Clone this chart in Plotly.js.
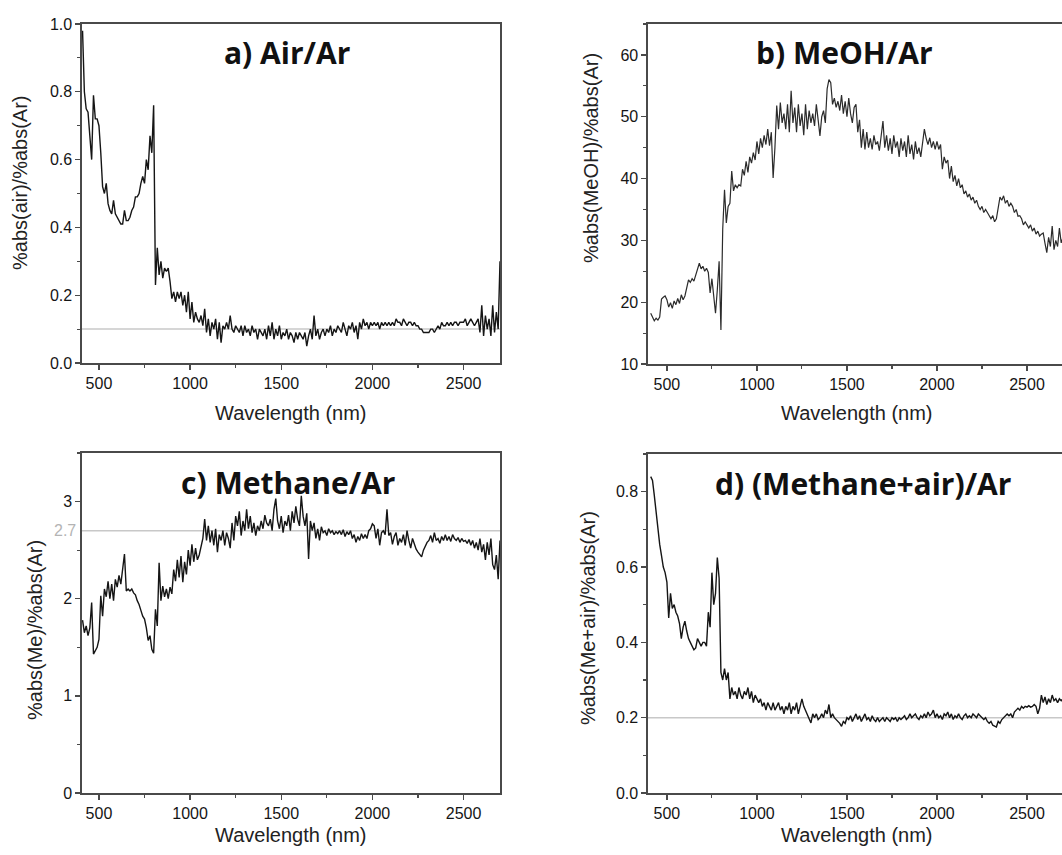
<!DOCTYPE html>
<html>
<head>
<meta charset="utf-8">
<script src="https://cdn.plot.ly/plotly-3.0.1.min.js"></script>
<style>
html,body{margin:0;padding:0;overflow:hidden;background:#fff;}
#chart{width:1070px;height:855px;}
</style>
</head>
<body>
<div id="chart"></div>
<script>
// Wavelength grid (nm)
const wavelength = [
410,420,430,440,450,460,470,480,490,500,
510,520,530,540,550,560,570,580,590,600,
610,620,630,640,650,660,670,680,690,700,
710,720,730,740,750,760,770,780,790,800,
810,820,830,840,850,860,870,880,890,900,
910,920,930,940,950,960,970,980,990,1000,
1010,1020,1030,1040,1050,1060,1070,1080,1090,1100,
1110,1120,1130,1140,1150,1160,1170,1180,1190,1200,
1210,1220,1230,1240,1250,1260,1270,1280,1290,1300,
1310,1320,1330,1340,1350,1360,1370,1380,1390,1400,
1410,1420,1430,1440,1450,1460,1470,1480,1490,1500,
1510,1520,1530,1540,1550,1560,1570,1580,1590,1600,
1610,1620,1630,1640,1650,1660,1670,1680,1690,1700,
1710,1720,1730,1740,1750,1760,1770,1780,1790,1800,
1810,1820,1830,1840,1850,1860,1870,1880,1890,1900,
1910,1920,1930,1940,1950,1960,1970,1980,1990,2000,
2010,2020,2030,2040,2050,2060,2070,2080,2090,2100,
2110,2120,2130,2140,2150,2160,2170,2180,2190,2200,
2210,2220,2230,2240,2250,2260,2270,2280,2290,2300,
2310,2320,2330,2340,2350,2360,2370,2380,2390,2400,
2410,2420,2430,2440,2450,2460,2470,2480,2490,2500,
2510,2520,2530,2540,2550,2560,2570,2580,2590,2600,
2610,2620,2630,2640,2650,2660,2670,2680,2690,2700
];

// a) Air/Ar
const airAr = [
0.98,0.80,0.75,0.74,0.67,0.60,0.79,0.72,0.72,0.70,
0.62,0.52,0.50,0.53,0.47,0.45,0.44,0.48,0.44,0.43,
0.42,0.41,0.41,0.45,0.42,0.42,0.43,0.45,0.46,0.49,
0.49,0.50,0.53,0.55,0.53,0.60,0.57,0.67,0.62,0.76,
0.23,0.34,0.26,0.30,0.25,0.28,0.27,0.28,0.24,0.19,
0.21,0.18,0.21,0.19,0.21,0.17,0.20,0.15,0.21,0.13,
0.18,0.12,0.15,0.13,0.12,0.14,0.11,0.16,0.09,0.13,
0.08,0.12,0.10,0.13,0.07,0.12,0.06,0.11,0.10,0.12,
0.10,0.14,0.10,0.09,0.11,0.10,0.09,0.11,0.08,0.11,
0.09,0.10,0.08,0.11,0.09,0.10,0.07,0.10,0.09,0.08,
0.10,0.07,0.11,0.08,0.12,0.07,0.10,0.08,0.11,0.07,
0.09,0.08,0.10,0.07,0.09,0.08,0.06,0.09,0.07,0.09,
0.08,0.07,0.09,0.05,0.08,0.10,0.07,0.14,0.08,0.10,
0.07,0.09,0.10,0.08,0.10,0.09,0.11,0.08,0.10,0.09,
0.11,0.10,0.09,0.12,0.10,0.08,0.11,0.10,0.12,0.09,
0.11,0.07,0.12,0.10,0.13,0.11,0.12,0.10,0.12,0.11,
0.12,0.11,0.12,0.10,0.12,0.11,0.12,0.11,0.12,0.11,
0.12,0.11,0.13,0.12,0.12,0.11,0.13,0.12,0.11,0.12,
0.12,0.11,0.12,0.11,0.11,0.10,0.10,0.09,0.09,0.09,
0.09,0.10,0.10,0.09,0.10,0.11,0.10,0.12,0.11,0.11,
0.12,0.11,0.12,0.11,0.12,0.12,0.11,0.12,0.12,0.12,
0.13,0.11,0.12,0.13,0.12,0.11,0.12,0.13,0.09,0.17,
0.08,0.14,0.10,0.13,0.08,0.17,0.09,0.15,0.10,0.30
];

// b) MeOH/Ar
const meohAr = [
18.2,17.5,17.0,17.4,17.1,17.6,20.5,20.8,21.0,20.4,
19.2,19.9,19.0,20.2,19.6,20.6,19.8,21.2,20.4,21.0,
22.5,23.6,23.2,23.8,23.4,24.5,25.5,26.3,25.4,25.8,
25.0,25.5,24.8,21.5,23.8,20.5,18.2,22.0,26.6,15.5,
31.8,38.2,32.8,35.5,36.0,41.2,38.0,39.0,38.5,39.0,
38.8,41.5,40.5,42.8,41.0,43.5,42.5,44.2,43.0,46.0,
44.0,46.5,45.0,47.0,45.5,48.0,45.3,47.5,40.1,45.0,
51.8,48.0,52.3,49.0,50.5,48.0,52.0,47.5,54.2,49.0,
51.5,47.5,52.0,48.5,50.5,47.0,52.0,48.0,51.0,49.0,
50.5,48.5,52.0,49.5,46.9,50.0,51.0,49.0,54.5,56.0,
55.5,52.0,53.0,51.5,52.5,51.0,53.5,50.5,52.5,50.0,
53.0,50.5,49.0,51.5,52.0,47.5,49.5,45.0,48.0,44.7,
47.5,45.0,46.5,44.7,47.0,45.5,46.0,44.5,46.5,49.3,
45.0,47.0,44.5,46.5,44.0,47.0,45.0,46.0,43.5,46.5,
44.5,46.0,43.5,47.0,44.0,45.5,43.1,46.0,44.0,45.0,
43.5,46.0,48.0,46.5,45.5,46.6,45.0,46.0,44.7,46.0,
44.7,45.5,41.5,43.5,42.5,43.0,40.0,42.0,39.5,40.5,
38.8,40.0,38.5,39.0,37.5,38.0,37.0,37.5,36.5,37.0,
36.0,36.5,35.5,35.0,35.5,34.5,35.0,34.5,34.0,33.5,
34.0,33.0,33.5,35.5,37.0,36.5,37.2,36.0,36.5,35.5,
36.0,35.5,34.5,35.0,33.9,34.0,33.5,32.5,33.0,32.5,
32.0,32.5,31.5,32.0,31.0,31.5,30.7,31.0,31.2,29.5,
28.0,30.5,29.0,32.3,28.5,30.0,29.0,32.0,29.6,30.5
];

// c) Methane/Ar
const methaneAr = [
1.78,1.65,1.72,1.62,1.70,1.96,1.43,1.47,1.50,1.58,
2.03,1.82,2.10,2.02,2.18,2.00,2.15,1.98,2.20,2.12,
2.24,2.15,2.30,2.46,2.08,2.10,2.08,2.10,2.06,2.04,
1.98,1.94,1.88,1.82,1.79,1.70,1.57,1.62,1.48,1.44,
1.89,1.72,2.37,1.98,2.13,2.02,2.10,2.00,2.12,2.05,
2.30,2.18,2.40,2.22,2.44,2.17,2.38,2.25,2.50,2.34,
2.56,2.38,2.52,2.40,2.45,2.55,2.62,2.82,2.60,2.75,
2.58,2.70,2.55,2.72,2.48,2.66,2.60,2.70,2.55,2.68,
2.62,2.52,2.78,2.60,2.85,2.75,2.90,2.65,2.80,2.70,
2.92,2.72,2.85,2.68,2.78,2.65,2.75,2.70,2.80,2.72,
2.86,2.78,2.75,2.82,2.70,2.92,3.03,2.80,2.72,2.85,
2.68,2.80,2.75,2.86,2.70,2.90,2.78,2.95,2.82,2.75,
3.06,2.85,2.75,2.88,2.41,2.80,2.70,2.78,2.62,2.72,
2.60,2.74,2.68,2.70,2.65,2.72,2.68,2.70,2.66,2.69,
2.67,2.70,2.66,2.71,2.64,2.69,2.66,2.70,2.62,2.66,
2.58,2.64,2.60,2.67,2.62,2.66,2.62,2.70,2.72,2.77,
2.75,2.62,2.72,2.55,2.68,2.70,2.66,2.92,2.65,2.68,
2.56,2.64,2.68,2.55,2.62,2.58,2.66,2.55,2.70,2.60,
2.52,2.62,2.56,2.51,2.48,2.45,2.43,2.50,2.55,2.58,
2.60,2.65,2.58,2.68,2.60,2.62,2.57,2.64,2.60,2.66,
2.60,2.64,2.59,2.66,2.62,2.60,2.63,2.58,2.62,2.59,
2.60,2.57,2.61,2.55,2.60,2.52,2.58,2.50,2.62,2.48,
2.56,2.40,2.58,2.45,2.62,2.35,2.30,2.45,2.20,2.60
];

// d) (Methane+air)/Ar
const methaneAirAr = [
0.84,0.83,0.79,0.74,0.69,0.66,0.63,0.60,0.585,0.56,
0.465,0.53,0.49,0.50,0.48,0.47,0.45,0.41,0.44,0.456,
0.43,0.41,0.40,0.39,0.38,0.385,0.41,0.40,0.39,0.40,
0.40,0.39,0.48,0.44,0.585,0.50,0.53,0.625,0.57,0.32,
0.30,0.33,0.30,0.32,0.25,0.28,0.26,0.27,0.25,0.28,
0.26,0.25,0.27,0.26,0.28,0.25,0.27,0.24,0.26,0.25,
0.24,0.25,0.23,0.24,0.22,0.24,0.23,0.22,0.24,0.22,
0.23,0.24,0.22,0.23,0.21,0.23,0.22,0.24,0.21,0.23,
0.22,0.24,0.21,0.23,0.25,0.23,0.22,0.21,0.20,0.186,
0.21,0.20,0.21,0.195,0.20,0.21,0.20,0.22,0.21,0.235,
0.20,0.21,0.20,0.195,0.19,0.185,0.177,0.19,0.185,0.20,
0.195,0.205,0.19,0.20,0.21,0.195,0.205,0.19,0.20,0.21,
0.195,0.20,0.19,0.205,0.195,0.19,0.20,0.19,0.195,0.20,
0.19,0.20,0.195,0.19,0.20,0.195,0.20,0.19,0.20,0.195,
0.20,0.205,0.195,0.20,0.21,0.20,0.205,0.21,0.20,0.195,
0.205,0.20,0.21,0.20,0.215,0.205,0.21,0.22,0.20,0.21,
0.20,0.205,0.195,0.21,0.205,0.215,0.20,0.21,0.195,0.205,
0.20,0.21,0.20,0.195,0.205,0.21,0.20,0.205,0.20,0.21,
0.205,0.20,0.21,0.205,0.20,0.195,0.20,0.19,0.185,0.19,
0.18,0.177,0.175,0.19,0.185,0.195,0.20,0.205,0.21,0.205,
0.21,0.20,0.215,0.22,0.225,0.22,0.23,0.225,0.23,0.228,
0.232,0.228,0.23,0.235,0.23,0.21,0.225,0.26,0.24,0.255,
0.235,0.25,0.24,0.26,0.245,0.25,0.24,0.25,0.245,0.25
];

const panelTitles = ["a) Air/Ar", "b) MeOH/Ar", "c) Methane/Ar", "d) (Methane+air)/Ar"];
const yTitles = ["%abs(air)/%abs(Ar)", "%abs(MeOH)/%abs(Ar)", "%abs(Me)/%abs(Ar)", "%abs(Me+air)/%abs(Ar)"];
const xTitle = "Wavelength (nm)";
const refLevels = [0.1, null, 2.7, 0.2];

const W = 1070, H = 855;
const px = v => v / W;
const py = v => 1 - v / H;

const lineStyle = {color: '#151515', width: 1.4};
const traces = [
  {x: wavelength, y: airAr, xaxis: 'x', yaxis: 'y'},
  {x: wavelength, y: meohAr, xaxis: 'x2', yaxis: 'y2', line: {color: '#2b2b2b', width: 1.2}},
  {x: wavelength, y: methaneAr, xaxis: 'x3', yaxis: 'y3'},
  {x: wavelength, y: methaneAirAr, xaxis: 'x4', yaxis: 'y4'}
].map(t => Object.assign({type: 'scatter', mode: 'lines', line: lineStyle, showlegend: false, hoverinfo: 'skip'}, t));

const font = {family: '"Liberation Sans", Arial, sans-serif', size: 16, color: '#151515'};
function xax(dom, range) {
  return {domain: dom, range: range, showline: true, linecolor: '#4a4a4a', linewidth: 1.6, mirror: true,
    ticks: 'outside', ticklen: 5, tickwidth: 1.3, tickcolor: '#4a4a4a', tick0: 0, dtick: 500,
    minor: {ticks: 'outside', ticklen: 3, tickwidth: 1.1, tickcolor: '#4a4a4a', dtick: 250, tick0: 0},
    showgrid: false, zeroline: false, tickfont: font};
}
function yax(dom, range, dtick, mdtick, fmt, anchor) {
  return {domain: dom, range: range, anchor: anchor, showline: true, linecolor: '#4a4a4a', linewidth: 1.6, mirror: true,
    ticks: 'outside', ticklen: 5, tickwidth: 1.3, tickcolor: '#4a4a4a', tick0: 0, dtick: dtick, tickformat: fmt,
    minor: {ticks: 'outside', ticklen: 3, tickwidth: 1.1, tickcolor: '#4a4a4a', dtick: mdtick, tick0: 0},
    showgrid: false, zeroline: false, tickfont: font};
}

const xdomL = [px(82), px(500)], xdomR = [px(648), px(1063)];
const layout = {
  width: W, height: H, margin: {l: 0, r: 0, t: 0, b: 0},
  paper_bgcolor: '#fff', plot_bgcolor: '#fff', font: font,
  xaxis: Object.assign(xax(xdomL, [407, 2700]), {anchor: 'y'}),
  yaxis: yax([py(363), py(24)], [0, 1], 0.2, 0.1, '.1f', 'x'),
  xaxis2: Object.assign(xax(xdomR, [395, 2700]), {anchor: 'y2'}),
  yaxis2: yax([py(364), py(24)], [10, 65], 10, 5, '', 'x2'),
  xaxis3: Object.assign(xax(xdomL, [407, 2700]), {anchor: 'y3'}),
  yaxis3: yax([py(793), py(453)], [0, 3.5], 1, 0.5, '', 'x3'),
  xaxis4: Object.assign(xax(xdomR, [395, 2700]), {anchor: 'y4'}),
  yaxis4: yax([py(793), py(454)], [0, 0.9], 0.2, 0.1, '.1f', 'x4'),
  shapes: [],
  annotations: []
};

const axSuffix = ['', '2', '3', '4'];
refLevels.forEach((lv, i) => {
  if (lv === null) return;
  layout.shapes.push({type: 'line', xref: 'x' + axSuffix[i] + ' domain', x0: 0, x1: 1,
    yref: 'y' + axSuffix[i], y0: lv, y1: lv, line: {color: '#c8c8c8', width: 1.5}, layer: 'below'});
});
// grey value label on panel c
layout.annotations.push({xref: 'paper', yref: 'y3', x: px(78), y: refLevels[2], text: String(refLevels[2]),
  showarrow: false, xanchor: 'right', yanchor: 'middle', font: {family: font.family, size: 16, color: '#b4b4b4'}});

const titlePos = [[287, 52], [844, 52], [288, 482], [863, 484]];
const yTitlePos = [[20, 183], [591, 158], [35, 630], [588, 618]];
const xTitlePos = [[291, 413], [857, 413], [291, 835], [857, 835]];
for (let i = 0; i < 4; i++) {
  layout.annotations.push({xref: 'paper', yref: 'paper', x: px(titlePos[i][0]), y: py(titlePos[i][1]),
    text: '<b>' + panelTitles[i] + '</b>', showarrow: false, xanchor: 'center', yanchor: 'middle',
    font: {family: '"Open Sans", "Noto Sans", sans-serif', size: 30, color: '#111'}});
  layout.annotations.push({xref: 'paper', yref: 'paper', x: px(yTitlePos[i][0]), y: py(yTitlePos[i][1]),
    text: yTitles[i], textangle: -90, showarrow: false, xanchor: 'center', yanchor: 'middle',
    font: {family: font.family, size: 20, color: '#222'}});
  layout.annotations.push({xref: 'paper', yref: 'paper', x: px(xTitlePos[i][0]), y: py(xTitlePos[i][1]),
    text: xTitle, showarrow: false, xanchor: 'center', yanchor: 'middle',
    font: {family: font.family, size: 20, color: '#222'}});
}

Plotly.newPlot('chart', traces, layout, {displayModeBar: false, staticPlot: true});
</script>
</body>
</html>
